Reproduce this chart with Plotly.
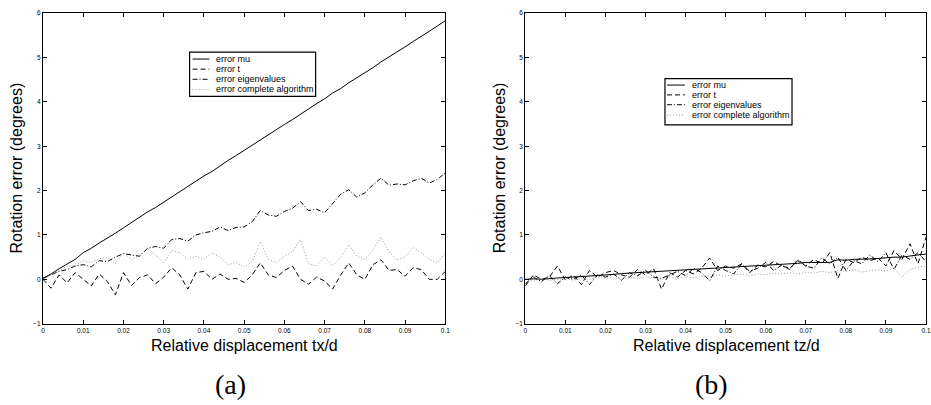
import plotly.graph_objects as go

W, H = 931, 405

# ---------------- data ----------------
x_vals = [round(i * 0.002, 3) for i in range(51)]

a_mu = [0.02, 0.12, 0.24, 0.35, 0.45, 0.60, 0.70, 0.82, 0.94, 1.04, 1.16, 1.28, 1.39, 1.52, 1.62,
        1.74, 1.86, 1.97, 2.10, 2.21, 2.33, 2.43, 2.56, 2.68, 2.79, 2.91, 3.03, 3.14, 3.26, 3.37,
        3.49, 3.60, 3.73, 3.84, 3.96, 4.07, 4.20, 4.30, 4.43, 4.54, 4.66, 4.77, 4.90, 5.01, 5.13,
        5.24, 5.36, 5.47, 5.59, 5.71, 5.83]
a_t = [0.0, -0.2, 0.1, -0.08, 0.15, 0.0, -0.15, 0.12, -0.05, -0.35, 0.15, -0.14, 0.04, 0.1, -0.1,
       0.05, 0.26, 0.1, -0.22, 0.15, 0.18, 0.0, 0.12, 0.0, 0.02, -0.07, 0.1, 0.37, 0.1, 0.04,
       0.2, 0.3, 0.0, -0.11, 0.05, -0.04, -0.22, 0.1, 0.37, 0.1, 0.0, 0.33, 0.44, 0.2, 0.22,
       0.07, 0.26, 0.22, 0.0, 0.0, 0.18]
a_eig = [0.02, 0.1, 0.18, 0.22, 0.3, 0.33, 0.28, 0.42, 0.4, 0.5, 0.58, 0.55, 0.52, 0.7, 0.74,
         0.7, 0.9, 0.92, 0.86, 1.0, 1.05, 1.08, 1.18, 1.1, 1.17, 1.18, 1.3, 1.55, 1.45, 1.42,
         1.53, 1.6, 1.75, 1.55, 1.58, 1.5, 1.7, 1.92, 2.02, 1.85, 1.95, 2.13, 2.28, 2.12, 2.15,
         2.13, 2.22, 2.28, 2.17, 2.25, 2.4]
a_all = [0.0, 0.1, 0.2, 0.3, 0.3, 0.42, 0.38, 0.46, 0.5, 0.35, 0.6, 0.44, 0.55, 0.7, 0.55,
         0.37, 0.65, 0.6, 0.45, 0.52, 0.45, 0.6, 0.5, 0.33, 0.38, 0.27, 0.4, 0.85, 0.45, 0.37,
         0.52, 0.62, 0.9, 0.35, 0.3, 0.5, 0.3, 0.5, 0.78, 0.52, 0.45, 0.66, 0.95, 0.62, 0.44,
         0.5, 0.72, 0.6, 0.45, 0.37, 0.6]

b_mu = [0.0, 0.01, 0.0, 0.02, 0.03, 0.04, 0.05, 0.06, 0.08, 0.09, 0.1, 0.11, 0.13, 0.14, 0.15,
        0.16, 0.17, 0.18, 0.19, 0.2, 0.21, 0.22, 0.23, 0.24, 0.25, 0.26, 0.27, 0.28, 0.29, 0.3,
        0.31, 0.32, 0.33, 0.34, 0.36, 0.38, 0.38, 0.39, 0.38, 0.44, 0.43, 0.45, 0.45, 0.46, 0.47,
        0.49, 0.5, 0.5, 0.53, 0.55, 0.57]
b_t = [-0.15, 0.1, 0.0, 0.05, 0.3, -0.02, 0.1, -0.12, 0.2, 0.05, 0.15, 0.2, 0.1, 0.05, 0.22,
       0.1, 0.24, -0.22, 0.15, 0.05, 0.2, 0.12, 0.25, 0.48, 0.2, 0.3, 0.25, 0.35, 0.15, 0.32,
       0.28, 0.4, 0.3, 0.25, 0.42, 0.3, 0.45, 0.35, 0.6, 0.02, 0.45, 0.38, 0.5, 0.42, 0.48,
       0.3, 0.65, 0.45, 0.8, 0.35, 0.95]
b_eig = [-0.1, 0.05, -0.05, 0.08, -0.1, 0.05, 0.0, 0.1, -0.12, 0.1, 0.05, 0.12, -0.02, 0.15, 0.08,
         0.2, 0.05, 0.02, 0.1, 0.18, 0.08, 0.25, 0.15, -0.03, 0.3, 0.2, 0.12, 0.35, 0.18, 0.25,
         0.38, 0.2, 0.32, 0.22, 0.45, 0.3, 0.25, 0.48, 0.35, 0.5, 0.2, 0.42, 0.35, 0.55, 0.4,
         0.6, 0.22, 0.55, 0.45, 0.6, 0.4]
b_all = [0.0, -0.05, 0.02, -0.02, 0.0, 0.02, -0.02, 0.02, 0.0, 0.05, 0.02, 0.04, 0.0, 0.05, 0.02,
         0.06, 0.03, 0.0, 0.05, 0.02, 0.06, 0.04, 0.08, 0.05, 0.1, 0.08, 0.1, 0.12, 0.08, 0.12,
         0.1, 0.14, 0.12, 0.15, 0.12, 0.16, 0.14, 0.18, 0.15, 0.2, 0.18, 0.22, 0.16, 0.2, 0.22,
         0.18, 0.25, 0.05, 0.22, 0.28, 0.3]

series_names = ["error mu", "error t", "error eigenvalues", "error complete algorithm"]
x_ticks = [0, 0.01, 0.02, 0.03, 0.04, 0.05, 0.06, 0.07, 0.08, 0.09, 0.1]
y_ticks = [-1, 0, 1, 2, 3, 4, 5, 6]

# ---------------- styles ----------------
SANS = "Liberation Sans, Arial, sans-serif"
SERIF = "Liberation Serif, DejaVu Serif, serif"
styles = [
    dict(color="black", width=1, dash="solid"),
    dict(color="black", width=1, dash="5px,3px"),
    dict(color="black", width=1, dash="5px,2px,1px,2px"),
    dict(color="#9a9a9a", width=1, dash="1px,2px"),
]


def px(x):
    return x / W


def py(y):
    return 1 - y / H


fig = go.Figure()
for ax, data in (("", (a_mu, a_t, a_eig, a_all)), ("2", (b_mu, b_t, b_eig, b_all))):
    for name, vals, st in zip(series_names, data, styles):
        fig.add_trace(go.Scatter(x=x_vals, y=vals, mode="lines", name=name, line=st,
                                 xaxis="x" + ax, yaxis="y" + ax, showlegend=False,
                                 hoverinfo="skip"))

ydom = [1 - 325.3 / H, 1 - 9.3 / H]
axis_common = dict(showgrid=False, zeroline=False, showline=True, linecolor="black",
                   linewidth=1.3, mirror="ticks", ticks="inside", ticklen=4, tickwidth=1,
                   tickcolor="black", tickfont=dict(family=SANS, size=6.5, color="black"))

fig.update_layout(
    width=W, height=H,
    margin=dict(l=0, r=0, t=0, b=0),
    paper_bgcolor="white", plot_bgcolor="white",
    showlegend=False,
    xaxis=dict(domain=[41.3 / W, 446.7 / W], range=[0, 0.1], tickvals=x_ticks,
               ticktext=[f"{v:g}" for v in x_ticks], anchor="y", **axis_common),
    yaxis=dict(domain=ydom, range=[-1, 6], tickvals=y_ticks, anchor="x", **axis_common),
    xaxis2=dict(domain=[527.3 / W, 1.0], range=[0, 0.1], tickvals=x_ticks,
                ticktext=[f"{v:g}" for v in x_ticks], anchor="y2", **axis_common),
    yaxis2=dict(domain=ydom, range=[-1, 6], tickvals=y_ticks, anchor="x2", **axis_common),
)

annotations = []
shapes = []

# axis titles and panel labels
for cx, text in ((244, "Relative displacement tx/d"), (730, "Relative displacement tz/d")):
    annotations.append(dict(x=px(cx), y=py(347), xref="paper", yref="paper", text=text,
                            showarrow=False, xanchor="center", yanchor="middle",
                            font=dict(family=SANS, size=16, color="black")))
for cx in (14.5, 501):
    annotations.append(dict(x=px(cx), y=py(167), xref="paper", yref="paper",
                            text="Rotation error (degrees)", textangle=-90, showarrow=False,
                            xanchor="center", yanchor="middle",
                            font=dict(family=SANS, size=16, color="black")))
for cx, text in ((230, "(a)"), (715, "(b)")):
    annotations.append(dict(x=px(cx), y=py(387), xref="paper", yref="paper", text=text,
                            showarrow=False, xanchor="center", yanchor="middle",
                            font=dict(family=SERIF, size=28, color="black")))

# legends (drawn as boxes)
legend_boxes = [
    dict(box=(189, 49, 316, 94), rows=(56, 66.3, 76.6, 87), line=(192, 209), text_x=214),
    dict(box=(668, 76, 796, 123), rows=(82.5, 92.5, 102.5, 113), line=(670, 688), text_x=693),
]
for lb in legend_boxes:
    x0, y0, x1, y1 = lb["box"]
    shapes.append(dict(type="rect", xref="paper", yref="paper", x0=px(x0), x1=px(x1),
                       y0=py(y0), y1=py(y1), line=dict(color="black", width=1.2),
                       fillcolor="white", layer="above"))
    for ry, name, st in zip(lb["rows"], series_names, styles):
        shapes.append(dict(type="line", xref="paper", yref="paper", x0=px(lb["line"][0]),
                           x1=px(lb["line"][1]), y0=py(ry), y1=py(ry), line=st, layer="above"))
        annotations.append(dict(x=px(lb["text_x"]), y=py(ry), xref="paper", yref="paper",
                                text=name, showarrow=False, xanchor="left", yanchor="middle",
                                font=dict(family=SANS, size=9, color="black")))

fig.update_layout(annotations=annotations, shapes=shapes)
fig.write_html("out.html", config={"displayModeBar": False},
               post_script="document.body.style.margin='0';document.body.style.overflow='hidden';")
